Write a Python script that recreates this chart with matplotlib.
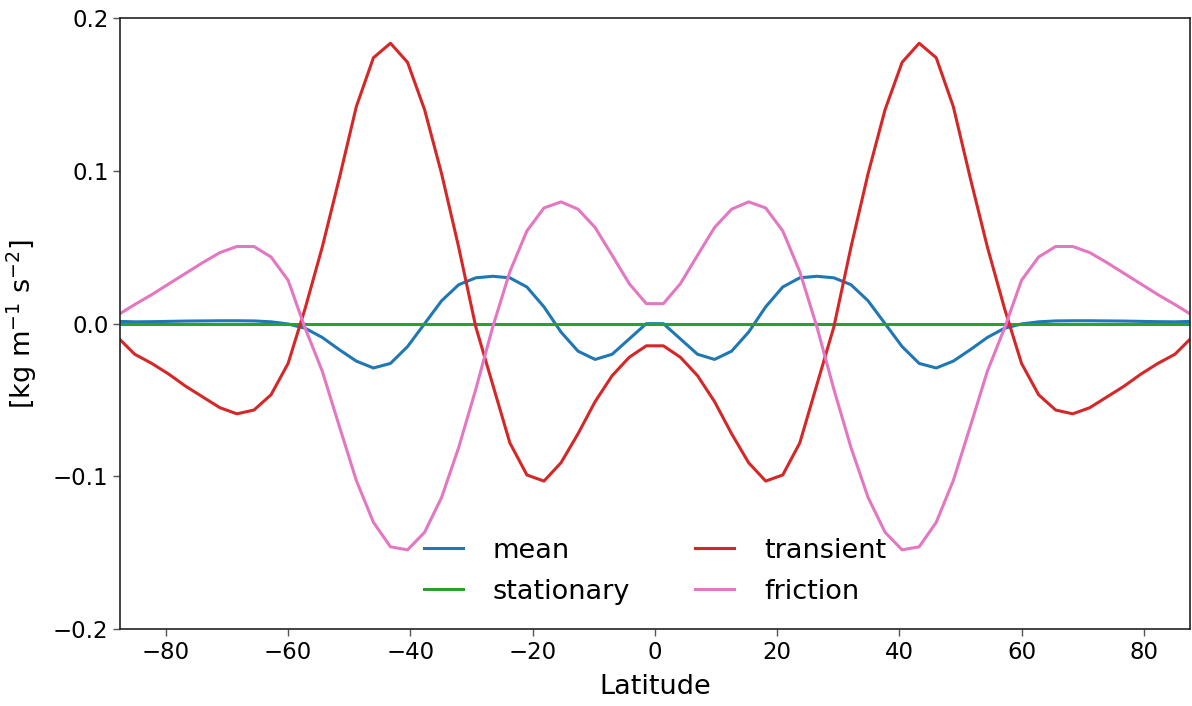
# coding: utf-8
import matplotlib
matplotlib.use("Agg")
import matplotlib.pyplot as plt

# Gaussian latitudes (T42 grid), south to north
lat = [-87.86, -85.10, -82.31, -79.53, -76.74, -73.95, -71.16, -68.37,
       -65.58, -62.79, -60.00, -57.21, -54.42, -51.63, -48.84, -46.04,
       -43.25, -40.46, -37.67, -34.88, -32.09, -29.30, -26.51, -23.72,
       -20.93, -18.14, -15.35, -12.56, -9.77, -6.98, -4.19, -1.40,
       1.40, 4.19, 6.98, 9.77, 12.56, 15.35, 18.14, 20.93,
       23.72, 26.51, 29.30, 32.09, 34.88, 37.67, 40.46, 43.25,
       46.04, 48.84, 51.63, 54.42, 57.21, 60.00, 62.79, 65.58,
       68.37, 71.16, 73.95, 76.74, 79.53, 82.31, 85.10, 87.86]

# zonal-mean momentum budget terms [kg m-1 s-2]
mean = [0.0015, 0.0012, 0.0013, 0.0015, 0.0017, 0.0018, 0.0019, 0.0019,
        0.0018, 0.0012, -0.0002, -0.003, -0.009, -0.017, -0.0245, -0.029,
        -0.026, -0.015, 0.000, 0.015, 0.0255, 0.030, 0.031, 0.030,
        0.024, 0.011, -0.0055, -0.018, -0.0234, -0.020, -0.010, 0.000,
        0.000, -0.010, -0.020, -0.0234, -0.018, -0.0055, 0.011, 0.024,
        0.030, 0.031, 0.030, 0.0255, 0.015, 0.000, -0.015, -0.026,
        -0.029, -0.0245, -0.017, -0.009, -0.003, -0.0002, 0.0012, 0.0018,
        0.0019, 0.0019, 0.0018, 0.0017, 0.0015, 0.0013, 0.0012, 0.0015]

stationary = [0.0, 0.0, 0.0, 0.0, 0.0, 0.0, 0.0, 0.0,
              0.0, 0.0, 0.0, 0.0, 0.0, 0.0, 0.0, 0.0,
              0.0, 0.0, 0.0, 0.0, 0.0, 0.0, 0.0, 0.0,
              0.0, 0.0, 0.0, 0.0, 0.0, 0.0, 0.0, 0.0,
              0.0, 0.0, 0.0, 0.0, 0.0, 0.0, 0.0, 0.0,
              0.0, 0.0, 0.0, 0.0, 0.0, 0.0, 0.0, 0.0,
              0.0, 0.0, 0.0, 0.0, 0.0, 0.0, 0.0, 0.0,
              0.0, 0.0, 0.0, 0.0, 0.0, 0.0, 0.0, 0.0]

transient = [-0.009, -0.020, -0.026, -0.033, -0.041, -0.048, -0.055, -0.059,
             -0.0565, -0.0465, -0.026, 0.010, 0.050, 0.095, 0.142, 0.174,
             0.1835, 0.171, 0.140, 0.098, 0.050, -0.002, -0.040, -0.078,
             -0.099, -0.103, -0.091, -0.072, -0.051, -0.034, -0.022, -0.0145,
             -0.0145, -0.022, -0.034, -0.051, -0.072, -0.091, -0.103, -0.099,
             -0.078, -0.040, -0.002, 0.050, 0.098, 0.140, 0.171, 0.1835,
             0.174, 0.142, 0.095, 0.050, 0.010, -0.026, -0.0465, -0.0565,
             -0.059, -0.055, -0.048, -0.041, -0.033, -0.026, -0.020, -0.009]

friction = [0.0057, 0.0125, 0.019, 0.026, 0.033, 0.040, 0.0465, 0.0505,
            0.0505, 0.0436, 0.0284, -0.003, -0.031, -0.067, -0.1026, -0.130,
            -0.146, -0.148, -0.1365, -0.1136, -0.081, -0.043, -0.002, 0.034,
            0.0607, 0.0757, 0.0797, 0.0749, 0.0629, 0.0447, 0.0262, 0.0131,
            0.0131, 0.0262, 0.0447, 0.0629, 0.0749, 0.0797, 0.0757, 0.0607,
            0.034, -0.002, -0.043, -0.081, -0.1136, -0.1365, -0.148, -0.146,
            -0.130, -0.1026, -0.067, -0.031, -0.003, 0.0284, 0.0436, 0.0505,
            0.0505, 0.0465, 0.040, 0.033, 0.026, 0.019, 0.0125, 0.0057]


def plotBudget(fileName):
    fig = plt.figure(figsize=(11.92, 7.06), dpi=100)
    ax = fig.add_axes([0.1007, 0.1086, 0.8973, 0.8659])

    ax.plot(lat, mean, color="#1f77b4", lw=2.2, label="mean")
    ax.plot(lat, stationary, color="#2ca02c", lw=2.2, label="stationary")
    ax.plot(lat, transient, color="#d62728", lw=2.2, label="transient")
    ax.plot(lat, friction, color="#e377c2", lw=2.2, label="friction")

    ax.set_xlim(-87.5, 87.5)
    ax.set_ylim(-0.2, 0.2)
    ax.set_xticks([-80, -60, -40, -20, 0, 20, 40, 60, 80])
    ax.set_yticks([-0.2, -0.1, 0.0, 0.1, 0.2])

    for side in ["left", "right", "top", "bottom"]:
        ax.spines[side].set_linewidth(1.2)
        ax.spines[side].set_color("#222222")
    ax.tick_params(direction="out", length=4.8, width=1.0, labelsize=16.5,
                   top=False, right=False, color="#555555")

    ax.set_xlabel("Latitude", fontsize=19.5, labelpad=7)
    ax.set_ylabel(r"[kg m$^{-1}$ s$^{-2}$]", fontsize=19.5)
    ax.yaxis.set_label_coords(-0.076, 0.5)

    ax.legend(loc="lower center", ncol=2, frameon=False, fontsize=19.5,
              handlelength=1.45, handletextpad=1.1, columnspacing=2.4,
              labelspacing=0.56)

    fig.savefig(fileName, dpi=100)


def main():
    plotBudget("out.png")


if __name__ == '__main__':
    main()
